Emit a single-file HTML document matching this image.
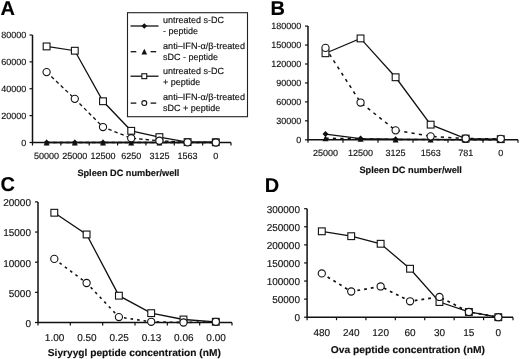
<!DOCTYPE html>
<html><head><meta charset="utf-8"><style>
html,body{margin:0;padding:0;background:#fff;}
body{width:520px;height:359px;overflow:hidden;}
svg{display:block;font-family:"Liberation Sans", sans-serif;will-change:transform;text-rendering:geometricPrecision;filter:blur(0.3px);}
</style></head><body>
<svg width="520" height="359" viewBox="0 0 520 359">
<path d="M32.50 35.00 V142.50 H231.00" fill="none" stroke="#111" stroke-width="1.5"/>
<path d="M29.50 142.50 H32.50" stroke="#111" stroke-width="1.2"/>
<text x="26.20" y="145.65" font-size="9" text-anchor="end" fill="#111" stroke="#111" stroke-width="0.15" stroke-linejoin="round">0</text>
<path d="M29.50 115.62 H32.50" stroke="#111" stroke-width="1.2"/>
<text x="26.20" y="118.78" font-size="9" text-anchor="end" fill="#111" stroke="#111" stroke-width="0.15" stroke-linejoin="round">20000</text>
<path d="M29.50 88.75 H32.50" stroke="#111" stroke-width="1.2"/>
<text x="26.20" y="91.90" font-size="9" text-anchor="end" fill="#111" stroke="#111" stroke-width="0.15" stroke-linejoin="round">40000</text>
<path d="M29.50 61.88 H32.50" stroke="#111" stroke-width="1.2"/>
<text x="26.20" y="65.03" font-size="9" text-anchor="end" fill="#111" stroke="#111" stroke-width="0.15" stroke-linejoin="round">60000</text>
<path d="M29.50 35.00 H32.50" stroke="#111" stroke-width="1.2"/>
<text x="26.20" y="38.15" font-size="9" text-anchor="end" fill="#111" stroke="#111" stroke-width="0.15" stroke-linejoin="round">80000</text>
<path d="M32.50 142.50 V145.50" stroke="#111" stroke-width="1.2"/>
<path d="M60.86 142.50 V145.50" stroke="#111" stroke-width="1.2"/>
<path d="M89.21 142.50 V145.50" stroke="#111" stroke-width="1.2"/>
<path d="M117.57 142.50 V145.50" stroke="#111" stroke-width="1.2"/>
<path d="M145.93 142.50 V145.50" stroke="#111" stroke-width="1.2"/>
<path d="M174.29 142.50 V145.50" stroke="#111" stroke-width="1.2"/>
<path d="M202.64 142.50 V145.50" stroke="#111" stroke-width="1.2"/>
<path d="M231.00 142.50 V145.50" stroke="#111" stroke-width="1.2"/>
<text x="46.60" y="158.80" font-size="9" text-anchor="middle" fill="#111" stroke="#111" stroke-width="0.15" stroke-linejoin="round">50000</text>
<text x="74.80" y="158.80" font-size="9" text-anchor="middle" fill="#111" stroke="#111" stroke-width="0.15" stroke-linejoin="round">25000</text>
<text x="103.00" y="158.80" font-size="9" text-anchor="middle" fill="#111" stroke="#111" stroke-width="0.15" stroke-linejoin="round">12500</text>
<text x="131.20" y="158.80" font-size="9" text-anchor="middle" fill="#111" stroke="#111" stroke-width="0.15" stroke-linejoin="round">6250</text>
<text x="159.40" y="158.80" font-size="9" text-anchor="middle" fill="#111" stroke="#111" stroke-width="0.15" stroke-linejoin="round">3125</text>
<text x="187.60" y="158.80" font-size="9" text-anchor="middle" fill="#111" stroke="#111" stroke-width="0.15" stroke-linejoin="round">1563</text>
<text x="215.80" y="158.80" font-size="9" text-anchor="middle" fill="#111" stroke="#111" stroke-width="0.15" stroke-linejoin="round">0</text>
<text x="77.40" y="176.00" font-size="9.2" text-anchor="start" font-weight="bold" fill="#111" stroke="#111" stroke-width="0.15" stroke-linejoin="round" textLength="102.0" lengthAdjust="spacingAndGlyphs">Spleen DC number/well</text>
<text x="0.50" y="14.80" font-size="20" text-anchor="start" font-weight="bold" fill="#000" stroke="#000" stroke-width="0.15" stroke-linejoin="round">A</text>
<polyline points="46.60,142.50 74.80,142.50 103.00,142.50 131.20,142.50 159.40,142.50 187.60,142.50 215.80,142.50" fill="none" stroke="#111" stroke-width="1.3"/>
<polyline points="46.60,142.50 74.80,142.50 103.00,142.50 131.20,142.50 159.40,142.50 187.60,142.50 215.80,142.50" fill="none" stroke="#111" stroke-width="1.3" stroke-dasharray="3.5,3"/>
<polyline points="46.60,46.42 74.80,50.72 103.00,101.25 131.20,130.81 159.40,137.12 187.60,142.10 215.80,142.23" fill="none" stroke="#111" stroke-width="1.3"/>
<polyline points="46.60,72.09 74.80,98.83 103.00,127.05 131.20,138.20 159.40,140.75 187.60,142.37 215.80,142.50" fill="none" stroke="#111" stroke-width="1.3" stroke-dasharray="3.5,3"/>
<path d="M46.60 139.50 L49.60 142.50 L46.60 145.50 L43.60 142.50Z" fill="#111"/>
<path d="M74.80 139.50 L77.80 142.50 L74.80 145.50 L71.80 142.50Z" fill="#111"/>
<path d="M103.00 139.50 L106.00 142.50 L103.00 145.50 L100.00 142.50Z" fill="#111"/>
<path d="M131.20 139.50 L134.20 142.50 L131.20 145.50 L128.20 142.50Z" fill="#111"/>
<path d="M159.40 139.50 L162.40 142.50 L159.40 145.50 L156.40 142.50Z" fill="#111"/>
<path d="M187.60 139.50 L190.60 142.50 L187.60 145.50 L184.60 142.50Z" fill="#111"/>
<path d="M215.80 139.50 L218.80 142.50 L215.80 145.50 L212.80 142.50Z" fill="#111"/>
<path d="M46.60 139.50 L49.60 145.50 L43.60 145.50Z" fill="#111"/>
<path d="M74.80 139.50 L77.80 145.50 L71.80 145.50Z" fill="#111"/>
<path d="M103.00 139.50 L106.00 145.50 L100.00 145.50Z" fill="#111"/>
<path d="M131.20 139.50 L134.20 145.50 L128.20 145.50Z" fill="#111"/>
<path d="M159.40 139.50 L162.40 145.50 L156.40 145.50Z" fill="#111"/>
<path d="M187.60 139.50 L190.60 145.50 L184.60 145.50Z" fill="#111"/>
<path d="M215.80 139.50 L218.80 145.50 L212.80 145.50Z" fill="#111"/>
<rect x="43.20" y="43.02" width="6.80" height="6.80" fill="#fff" stroke="#111" stroke-width="1.1"/>
<rect x="71.40" y="47.32" width="6.80" height="6.80" fill="#fff" stroke="#111" stroke-width="1.1"/>
<rect x="99.60" y="97.85" width="6.80" height="6.80" fill="#fff" stroke="#111" stroke-width="1.1"/>
<rect x="127.80" y="127.41" width="6.80" height="6.80" fill="#fff" stroke="#111" stroke-width="1.1"/>
<rect x="156.00" y="133.72" width="6.80" height="6.80" fill="#fff" stroke="#111" stroke-width="1.1"/>
<rect x="184.20" y="138.70" width="6.80" height="6.80" fill="#fff" stroke="#111" stroke-width="1.1"/>
<rect x="212.40" y="138.83" width="6.80" height="6.80" fill="#fff" stroke="#111" stroke-width="1.1"/>
<circle cx="46.60" cy="72.09" r="3.60" fill="#fff" stroke="#111" stroke-width="1.1"/>
<circle cx="74.80" cy="98.83" r="3.60" fill="#fff" stroke="#111" stroke-width="1.1"/>
<circle cx="103.00" cy="127.05" r="3.60" fill="#fff" stroke="#111" stroke-width="1.1"/>
<circle cx="131.20" cy="138.20" r="3.60" fill="#fff" stroke="#111" stroke-width="1.1"/>
<circle cx="159.40" cy="140.75" r="3.60" fill="#fff" stroke="#111" stroke-width="1.1"/>
<circle cx="187.60" cy="142.37" r="3.60" fill="#fff" stroke="#111" stroke-width="1.1"/>
<circle cx="215.80" cy="142.50" r="3.60" fill="#fff" stroke="#111" stroke-width="1.1"/>
<path d="M308.00 26.10 V139.80 H518.00" fill="none" stroke="#111" stroke-width="1.5"/>
<path d="M305.00 139.80 H308.00" stroke="#111" stroke-width="1.2"/>
<text x="301.30" y="142.95" font-size="9" text-anchor="end" fill="#111" stroke="#111" stroke-width="0.15" stroke-linejoin="round">0</text>
<path d="M305.00 120.85 H308.00" stroke="#111" stroke-width="1.2"/>
<text x="301.30" y="124.00" font-size="9" text-anchor="end" fill="#111" stroke="#111" stroke-width="0.15" stroke-linejoin="round">30000</text>
<path d="M305.00 101.90 H308.00" stroke="#111" stroke-width="1.2"/>
<text x="301.30" y="105.05" font-size="9" text-anchor="end" fill="#111" stroke="#111" stroke-width="0.15" stroke-linejoin="round">60000</text>
<path d="M305.00 82.95 H308.00" stroke="#111" stroke-width="1.2"/>
<text x="301.30" y="86.10" font-size="9" text-anchor="end" fill="#111" stroke="#111" stroke-width="0.15" stroke-linejoin="round">90000</text>
<path d="M305.00 64.00 H308.00" stroke="#111" stroke-width="1.2"/>
<text x="301.30" y="67.15" font-size="9" text-anchor="end" fill="#111" stroke="#111" stroke-width="0.15" stroke-linejoin="round">120000</text>
<path d="M305.00 45.05 H308.00" stroke="#111" stroke-width="1.2"/>
<text x="301.30" y="48.20" font-size="9" text-anchor="end" fill="#111" stroke="#111" stroke-width="0.15" stroke-linejoin="round">150000</text>
<path d="M305.00 26.10 H308.00" stroke="#111" stroke-width="1.2"/>
<text x="301.30" y="29.25" font-size="9" text-anchor="end" fill="#111" stroke="#111" stroke-width="0.15" stroke-linejoin="round">180000</text>
<path d="M308.00 139.80 V142.80" stroke="#111" stroke-width="1.2"/>
<path d="M343.00 139.80 V142.80" stroke="#111" stroke-width="1.2"/>
<path d="M378.00 139.80 V142.80" stroke="#111" stroke-width="1.2"/>
<path d="M413.00 139.80 V142.80" stroke="#111" stroke-width="1.2"/>
<path d="M448.00 139.80 V142.80" stroke="#111" stroke-width="1.2"/>
<path d="M483.00 139.80 V142.80" stroke="#111" stroke-width="1.2"/>
<path d="M518.00 139.80 V142.80" stroke="#111" stroke-width="1.2"/>
<text x="325.50" y="155.80" font-size="9" text-anchor="middle" fill="#111" stroke="#111" stroke-width="0.15" stroke-linejoin="round">25000</text>
<text x="360.55" y="155.80" font-size="9" text-anchor="middle" fill="#111" stroke="#111" stroke-width="0.15" stroke-linejoin="round">12500</text>
<text x="395.60" y="155.80" font-size="9" text-anchor="middle" fill="#111" stroke="#111" stroke-width="0.15" stroke-linejoin="round">3125</text>
<text x="430.65" y="155.80" font-size="9" text-anchor="middle" fill="#111" stroke="#111" stroke-width="0.15" stroke-linejoin="round">1563</text>
<text x="465.70" y="155.80" font-size="9" text-anchor="middle" fill="#111" stroke="#111" stroke-width="0.15" stroke-linejoin="round">781</text>
<text x="500.75" y="155.80" font-size="9" text-anchor="middle" fill="#111" stroke="#111" stroke-width="0.15" stroke-linejoin="round">0</text>
<text x="359.40" y="172.90" font-size="9.2" text-anchor="start" font-weight="bold" fill="#111" stroke="#111" stroke-width="0.15" stroke-linejoin="round" textLength="102.5" lengthAdjust="spacingAndGlyphs">Spleen DC number/well</text>
<text x="270.50" y="14.80" font-size="20" text-anchor="start" font-weight="bold" fill="#000" stroke="#000" stroke-width="0.15" stroke-linejoin="round">B</text>
<polyline points="325.50,134.12 360.55,138.54 395.60,139.17 430.65,139.42 465.70,139.61 500.75,139.67" fill="none" stroke="#111" stroke-width="1.3"/>
<polyline points="325.50,138.22 360.55,138.85 395.60,139.48 430.65,139.61 465.70,139.67 500.75,139.74" fill="none" stroke="#111" stroke-width="1.5" stroke-dasharray="3.2,4.2"/>
<polyline points="325.50,53.26 360.55,38.42 395.60,77.26 430.65,124.64 465.70,138.54 500.75,139.17" fill="none" stroke="#111" stroke-width="1.3"/>
<polyline points="325.50,47.89 360.55,102.53 395.60,130.33 430.65,136.33 465.70,138.54 500.75,138.85" fill="none" stroke="#111" stroke-width="1.5" stroke-dasharray="3.2,4.2"/>
<path d="M325.50 131.12 L328.50 134.12 L325.50 137.12 L322.50 134.12Z" fill="#111"/>
<path d="M360.55 135.54 L363.55 138.54 L360.55 141.54 L357.55 138.54Z" fill="#111"/>
<path d="M395.60 136.17 L398.60 139.17 L395.60 142.17 L392.60 139.17Z" fill="#111"/>
<path d="M430.65 136.42 L433.65 139.42 L430.65 142.42 L427.65 139.42Z" fill="#111"/>
<path d="M465.70 136.61 L468.70 139.61 L465.70 142.61 L462.70 139.61Z" fill="#111"/>
<path d="M500.75 136.67 L503.75 139.67 L500.75 142.67 L497.75 139.67Z" fill="#111"/>
<path d="M325.50 135.22 L328.50 141.22 L322.50 141.22Z" fill="#111"/>
<path d="M360.55 135.85 L363.55 141.85 L357.55 141.85Z" fill="#111"/>
<path d="M395.60 136.48 L398.60 142.48 L392.60 142.48Z" fill="#111"/>
<path d="M430.65 136.61 L433.65 142.61 L427.65 142.61Z" fill="#111"/>
<path d="M465.70 136.67 L468.70 142.67 L462.70 142.67Z" fill="#111"/>
<path d="M500.75 136.74 L503.75 142.74 L497.75 142.74Z" fill="#111"/>
<rect x="322.10" y="49.86" width="6.80" height="6.80" fill="#fff" stroke="#111" stroke-width="1.1"/>
<rect x="357.15" y="35.02" width="6.80" height="6.80" fill="#fff" stroke="#111" stroke-width="1.1"/>
<rect x="392.20" y="73.86" width="6.80" height="6.80" fill="#fff" stroke="#111" stroke-width="1.1"/>
<rect x="427.25" y="121.24" width="6.80" height="6.80" fill="#fff" stroke="#111" stroke-width="1.1"/>
<rect x="462.30" y="135.14" width="6.80" height="6.80" fill="#fff" stroke="#111" stroke-width="1.1"/>
<rect x="497.35" y="135.77" width="6.80" height="6.80" fill="#fff" stroke="#111" stroke-width="1.1"/>
<circle cx="325.50" cy="47.89" r="3.60" fill="#fff" stroke="#111" stroke-width="1.1"/>
<circle cx="360.55" cy="102.53" r="3.60" fill="#fff" stroke="#111" stroke-width="1.1"/>
<circle cx="395.60" cy="130.33" r="3.60" fill="#fff" stroke="#111" stroke-width="1.1"/>
<circle cx="430.65" cy="136.33" r="3.60" fill="#fff" stroke="#111" stroke-width="1.1"/>
<circle cx="465.70" cy="138.54" r="3.60" fill="#fff" stroke="#111" stroke-width="1.1"/>
<circle cx="500.75" cy="138.85" r="3.60" fill="#fff" stroke="#111" stroke-width="1.1"/>
<path d="M38.00 201.90 V322.50 H232.00" fill="none" stroke="#111" stroke-width="1.5"/>
<path d="M35.00 322.50 H38.00" stroke="#111" stroke-width="1.2"/>
<text x="31.00" y="326.80" font-size="10" text-anchor="end" fill="#111" stroke="#111" stroke-width="0.15" stroke-linejoin="round">0</text>
<path d="M35.00 292.35 H38.00" stroke="#111" stroke-width="1.2"/>
<text x="31.00" y="296.65" font-size="10" text-anchor="end" fill="#111" stroke="#111" stroke-width="0.15" stroke-linejoin="round">5000</text>
<path d="M35.00 262.20 H38.00" stroke="#111" stroke-width="1.2"/>
<text x="31.00" y="266.50" font-size="10" text-anchor="end" fill="#111" stroke="#111" stroke-width="0.15" stroke-linejoin="round">10000</text>
<path d="M35.00 232.05 H38.00" stroke="#111" stroke-width="1.2"/>
<text x="31.00" y="236.35" font-size="10" text-anchor="end" fill="#111" stroke="#111" stroke-width="0.15" stroke-linejoin="round">15000</text>
<path d="M35.00 201.90 H38.00" stroke="#111" stroke-width="1.2"/>
<text x="31.00" y="206.20" font-size="10" text-anchor="end" fill="#111" stroke="#111" stroke-width="0.15" stroke-linejoin="round">20000</text>
<path d="M38.00 322.50 V325.50" stroke="#111" stroke-width="1.2"/>
<path d="M70.33 322.50 V325.50" stroke="#111" stroke-width="1.2"/>
<path d="M102.67 322.50 V325.50" stroke="#111" stroke-width="1.2"/>
<path d="M135.00 322.50 V325.50" stroke="#111" stroke-width="1.2"/>
<path d="M167.33 322.50 V325.50" stroke="#111" stroke-width="1.2"/>
<path d="M199.67 322.50 V325.50" stroke="#111" stroke-width="1.2"/>
<path d="M232.00 322.50 V325.50" stroke="#111" stroke-width="1.2"/>
<text x="54.60" y="341.10" font-size="10" text-anchor="middle" fill="#111" stroke="#111" stroke-width="0.15" stroke-linejoin="round">1.00</text>
<text x="86.90" y="341.10" font-size="10" text-anchor="middle" fill="#111" stroke="#111" stroke-width="0.15" stroke-linejoin="round">0.50</text>
<text x="119.20" y="341.10" font-size="10" text-anchor="middle" fill="#111" stroke="#111" stroke-width="0.15" stroke-linejoin="round">0.25</text>
<text x="151.50" y="341.10" font-size="10" text-anchor="middle" fill="#111" stroke="#111" stroke-width="0.15" stroke-linejoin="round">0.13</text>
<text x="183.80" y="341.10" font-size="10" text-anchor="middle" fill="#111" stroke="#111" stroke-width="0.15" stroke-linejoin="round">0.06</text>
<text x="216.10" y="341.10" font-size="10" text-anchor="middle" fill="#111" stroke="#111" stroke-width="0.15" stroke-linejoin="round">0.00</text>
<text x="47.80" y="356.00" font-size="10" text-anchor="start" font-weight="bold" fill="#111" stroke="#111" stroke-width="0.15" stroke-linejoin="round" textLength="173.0" lengthAdjust="spacingAndGlyphs">Siyryygl peptide concentration (nM)</text>
<text x="0.50" y="191.30" font-size="20" text-anchor="start" font-weight="bold" fill="#000" stroke="#000" stroke-width="0.15" stroke-linejoin="round">C</text>
<polyline points="54.30,212.75 86.60,234.46 118.90,295.67 151.20,313.15 183.50,319.49 215.80,321.78" fill="none" stroke="#111" stroke-width="1.3"/>
<polyline points="54.30,258.88 86.60,283.00 118.90,317.07 151.20,321.78 183.50,322.50 215.80,321.78" fill="none" stroke="#111" stroke-width="1.6" stroke-dasharray="2.6,4"/>
<rect x="50.90" y="209.35" width="6.80" height="6.80" fill="#fff" stroke="#111" stroke-width="1.1"/>
<rect x="83.20" y="231.06" width="6.80" height="6.80" fill="#fff" stroke="#111" stroke-width="1.1"/>
<rect x="115.50" y="292.27" width="6.80" height="6.80" fill="#fff" stroke="#111" stroke-width="1.1"/>
<rect x="147.80" y="309.75" width="6.80" height="6.80" fill="#fff" stroke="#111" stroke-width="1.1"/>
<rect x="180.10" y="316.09" width="6.80" height="6.80" fill="#fff" stroke="#111" stroke-width="1.1"/>
<rect x="212.40" y="318.38" width="6.80" height="6.80" fill="#fff" stroke="#111" stroke-width="1.1"/>
<circle cx="54.30" cy="258.88" r="3.60" fill="#fff" stroke="#111" stroke-width="1.1"/>
<circle cx="86.60" cy="283.00" r="3.60" fill="#fff" stroke="#111" stroke-width="1.1"/>
<circle cx="118.90" cy="317.07" r="3.60" fill="#fff" stroke="#111" stroke-width="1.1"/>
<circle cx="151.20" cy="321.78" r="3.60" fill="#fff" stroke="#111" stroke-width="1.1"/>
<circle cx="183.50" cy="322.50" r="3.60" fill="#fff" stroke="#111" stroke-width="1.1"/>
<circle cx="215.80" cy="321.78" r="3.60" fill="#fff" stroke="#111" stroke-width="1.1"/>
<path d="M307.10 208.70 V317.20 H513.00" fill="none" stroke="#111" stroke-width="1.5"/>
<path d="M304.10 317.20 H307.10" stroke="#111" stroke-width="1.2"/>
<text x="300.00" y="321.40" font-size="10" text-anchor="end" fill="#111" stroke="#111" stroke-width="0.15" stroke-linejoin="round">0</text>
<path d="M304.10 299.12 H307.10" stroke="#111" stroke-width="1.2"/>
<text x="300.00" y="303.32" font-size="10" text-anchor="end" fill="#111" stroke="#111" stroke-width="0.15" stroke-linejoin="round">50000</text>
<path d="M304.10 281.03 H307.10" stroke="#111" stroke-width="1.2"/>
<text x="300.00" y="285.23" font-size="10" text-anchor="end" fill="#111" stroke="#111" stroke-width="0.15" stroke-linejoin="round">100000</text>
<path d="M304.10 262.95 H307.10" stroke="#111" stroke-width="1.2"/>
<text x="300.00" y="267.15" font-size="10" text-anchor="end" fill="#111" stroke="#111" stroke-width="0.15" stroke-linejoin="round">150000</text>
<path d="M304.10 244.87 H307.10" stroke="#111" stroke-width="1.2"/>
<text x="300.00" y="249.07" font-size="10" text-anchor="end" fill="#111" stroke="#111" stroke-width="0.15" stroke-linejoin="round">200000</text>
<path d="M304.10 226.78 H307.10" stroke="#111" stroke-width="1.2"/>
<text x="300.00" y="230.98" font-size="10" text-anchor="end" fill="#111" stroke="#111" stroke-width="0.15" stroke-linejoin="round">250000</text>
<path d="M304.10 208.70 H307.10" stroke="#111" stroke-width="1.2"/>
<text x="300.00" y="212.90" font-size="10" text-anchor="end" fill="#111" stroke="#111" stroke-width="0.15" stroke-linejoin="round">300000</text>
<path d="M307.10 317.20 V320.20" stroke="#111" stroke-width="1.2"/>
<path d="M336.51 317.20 V320.20" stroke="#111" stroke-width="1.2"/>
<path d="M365.93 317.20 V320.20" stroke="#111" stroke-width="1.2"/>
<path d="M395.34 317.20 V320.20" stroke="#111" stroke-width="1.2"/>
<path d="M424.76 317.20 V320.20" stroke="#111" stroke-width="1.2"/>
<path d="M454.17 317.20 V320.20" stroke="#111" stroke-width="1.2"/>
<path d="M483.59 317.20 V320.20" stroke="#111" stroke-width="1.2"/>
<path d="M513.00 317.20 V320.20" stroke="#111" stroke-width="1.2"/>
<text x="321.81" y="336.00" font-size="10" text-anchor="middle" fill="#111" stroke="#111" stroke-width="0.15" stroke-linejoin="round">480</text>
<text x="351.22" y="336.00" font-size="10" text-anchor="middle" fill="#111" stroke="#111" stroke-width="0.15" stroke-linejoin="round">240</text>
<text x="380.64" y="336.00" font-size="10" text-anchor="middle" fill="#111" stroke="#111" stroke-width="0.15" stroke-linejoin="round">120</text>
<text x="410.05" y="336.00" font-size="10" text-anchor="middle" fill="#111" stroke="#111" stroke-width="0.15" stroke-linejoin="round">60</text>
<text x="439.46" y="336.00" font-size="10" text-anchor="middle" fill="#111" stroke="#111" stroke-width="0.15" stroke-linejoin="round">30</text>
<text x="468.88" y="336.00" font-size="10" text-anchor="middle" fill="#111" stroke="#111" stroke-width="0.15" stroke-linejoin="round">15</text>
<text x="498.29" y="336.00" font-size="10" text-anchor="middle" fill="#111" stroke="#111" stroke-width="0.15" stroke-linejoin="round">0</text>
<text x="330.80" y="353.10" font-size="10" text-anchor="start" font-weight="bold" fill="#111" stroke="#111" stroke-width="0.15" stroke-linejoin="round" textLength="154.1" lengthAdjust="spacingAndGlyphs">Ova peptide concentration (nM)</text>
<text x="264.80" y="191.60" font-size="20" text-anchor="start" font-weight="bold" fill="#000" stroke="#000" stroke-width="0.15" stroke-linejoin="round">D</text>
<polyline points="321.81,231.30 351.22,236.19 380.64,243.78 410.05,268.74 439.46,302.01 468.88,311.96 498.29,317.20" fill="none" stroke="#111" stroke-width="1.3"/>
<polyline points="321.81,273.44 351.22,291.52 380.64,286.46 410.05,301.29 439.46,296.95 468.88,311.96 498.29,317.20" fill="none" stroke="#111" stroke-width="1.7" stroke-dasharray="2.8,4"/>
<rect x="318.41" y="227.90" width="6.80" height="6.80" fill="#fff" stroke="#111" stroke-width="1.1"/>
<rect x="347.82" y="232.79" width="6.80" height="6.80" fill="#fff" stroke="#111" stroke-width="1.1"/>
<rect x="377.24" y="240.38" width="6.80" height="6.80" fill="#fff" stroke="#111" stroke-width="1.1"/>
<rect x="406.65" y="265.34" width="6.80" height="6.80" fill="#fff" stroke="#111" stroke-width="1.1"/>
<rect x="436.06" y="298.61" width="6.80" height="6.80" fill="#fff" stroke="#111" stroke-width="1.1"/>
<rect x="465.48" y="308.56" width="6.80" height="6.80" fill="#fff" stroke="#111" stroke-width="1.1"/>
<rect x="494.89" y="313.80" width="6.80" height="6.80" fill="#fff" stroke="#111" stroke-width="1.1"/>
<circle cx="321.81" cy="273.44" r="3.60" fill="#fff" stroke="#111" stroke-width="1.1"/>
<circle cx="351.22" cy="291.52" r="3.60" fill="#fff" stroke="#111" stroke-width="1.1"/>
<circle cx="380.64" cy="286.46" r="3.60" fill="#fff" stroke="#111" stroke-width="1.1"/>
<circle cx="410.05" cy="301.29" r="3.60" fill="#fff" stroke="#111" stroke-width="1.1"/>
<circle cx="439.46" cy="296.95" r="3.60" fill="#fff" stroke="#111" stroke-width="1.1"/>
<circle cx="468.88" cy="311.96" r="3.60" fill="#fff" stroke="#111" stroke-width="1.1"/>
<circle cx="498.29" cy="317.20" r="3.60" fill="#fff" stroke="#111" stroke-width="1.1"/>
<rect x="127.5" y="12.7" width="120.0" height="104.0" fill="#fff" stroke="#222" stroke-width="1.1"/>
<polyline points="130.50,26.00 158.50,26.00" fill="none" stroke="#111" stroke-width="1.3"/>
<path d="M144.30 23.15 L147.15 26.00 L144.30 28.85 L141.45 26.00Z" fill="#111"/>
<text x="163.00" y="23.30" font-size="9" text-anchor="start" fill="#111" stroke="#111" stroke-width="0.15" stroke-linejoin="round">untreated s-DC</text>
<text x="163.00" y="34.30" font-size="9" text-anchor="start" fill="#111" stroke="#111" stroke-width="0.15" stroke-linejoin="round">- peptide</text>
<polyline points="130.70,51.70 136.30,51.70" fill="none" stroke="#111" stroke-width="1.3"/>
<polyline points="150.60,51.70 156.20,51.70" fill="none" stroke="#111" stroke-width="1.3"/>
<path d="M144.30 48.85 L147.15 54.55 L141.45 54.55Z" fill="#111"/>
<text x="163.00" y="48.90" font-size="9" text-anchor="start" fill="#111" stroke="#111" stroke-width="0.15" stroke-linejoin="round" textLength="82.0" lengthAdjust="spacingAndGlyphs">anti&#8211;IFN-&#945;/&#946;-treated</text>
<text x="163.00" y="59.90" font-size="9" text-anchor="start" fill="#111" stroke="#111" stroke-width="0.15" stroke-linejoin="round">sDC - peptide</text>
<polyline points="130.50,76.20 158.50,76.20" fill="none" stroke="#111" stroke-width="1.3"/>
<rect x="141.85" y="73.75" width="4.90" height="4.90" fill="#fff" stroke="#111" stroke-width="1.1"/>
<text x="163.00" y="74.10" font-size="9" text-anchor="start" fill="#111" stroke="#111" stroke-width="0.15" stroke-linejoin="round">untreated s-DC</text>
<text x="163.00" y="85.30" font-size="9" text-anchor="start" fill="#111" stroke="#111" stroke-width="0.15" stroke-linejoin="round">+ peptide</text>
<polyline points="130.70,103.10 136.30,103.10" fill="none" stroke="#111" stroke-width="1.3"/>
<polyline points="150.60,103.10 156.20,103.10" fill="none" stroke="#111" stroke-width="1.3"/>
<circle cx="144.30" cy="103.10" r="2.45" fill="#fff" stroke="#111" stroke-width="1.1"/>
<text x="163.00" y="100.40" font-size="9" text-anchor="start" fill="#111" stroke="#111" stroke-width="0.15" stroke-linejoin="round" textLength="82.0" lengthAdjust="spacingAndGlyphs">anti&#8211;IFN-&#945;/&#946;-treated</text>
<text x="163.00" y="110.80" font-size="9" text-anchor="start" fill="#111" stroke="#111" stroke-width="0.15" stroke-linejoin="round">sDC + peptide</text>
</svg>
</body></html>
